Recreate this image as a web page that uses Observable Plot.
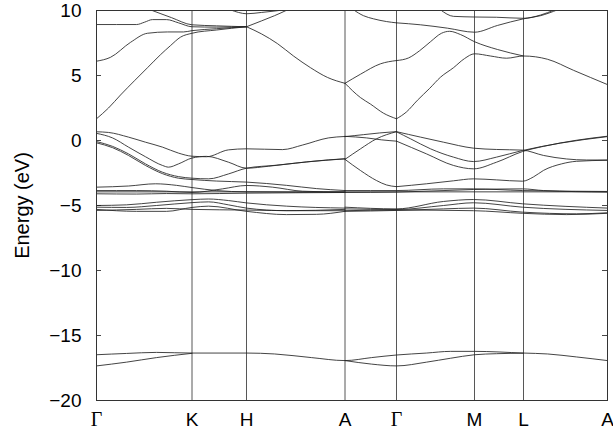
<!DOCTYPE html>
<html>
<head>
<meta charset="utf-8">
<script src="https://cdn.jsdelivr.net/npm/d3@7"></script>
<script src="https://cdn.jsdelivr.net/npm/@observablehq/plot@0.6"></script>
<style>
  html, body { margin: 0; padding: 0; background: #fff; }
</style>
</head>
<body>
<div id="chart"></div>
<script>
// High-symmetry points (path coordinate) and labels
const kTicks = [0, 95.5, 150, 248.5, 300, 378, 427, 511];
const kLabels = ["Γ", "K", "H", "A", "Γ", "M", "L", "A"];
const yTicks = [10, 5, 0, -5, -10, -15, -20];
const yLabel = "Energy (eV)";

// Conduction bands
const cbA = [[0,8.92],[40,8.92],[48,9.1],[56,9.3],[70,9.3],[82,9.05],[95.5,8.75],[120,8.72],[150,8.75]];
const cbB = [[54,10.05],[75,9.45],[95.5,8.9],[120,8.82],[150,8.75]];
const cbC = [[0,6.1],[14,6.4],[34,7.55],[51,8.25],[71,8.35],[87,8.35],[95.5,8.45],[120,8.6],[150,8.75]];
const cbD = [[0,1.67],[12,2.5],[24,3.5],[38,4.6],[51,5.6],[64,6.6],[74,7.3],[84,7.95],[95.5,8.25],[120,8.5],[150,8.75]];
const cbE = [[150,8.75],[165,8.2],[181,7.45],[197,6.5],[214,5.6],[231,4.85],[248.5,4.4]];
const cbF = [[150,8.75],[165,9.2],[178,9.6],[191,10.05]];
const cbG = [[134,10.05],[142,9.85],[150,9.75],[165,9.85],[188,10.05]];
const cbH = [[248.5,4.4],[264,5.1],[284,5.9],[300,6.15]];
const cbI = [[248.5,4.4],[264,3.3],[274,2.8],[287,2.1],[300,1.67]];
const cbJ = [[257,10.05],[267,9.6],[277,9.36],[290,9.15],[300,9.05]];
const cbK = [[300,1.67],[310,2.2],[321,3.1],[333,4.0],[344,4.87],[357,5.6],[368,6.3],[378,6.67],[394,6.5],[410,6.33],[427,6.5],[451,6.25],[477,5.4],[511,4.3]];
const cbL = [[300,6.15],[312,6.35],[323,6.9],[334,7.6],[345,8.25],[353,8.4],[364,8.15],[378,7.6],[401,7.0],[427,6.5]];
const cbM = [[300,9.05],[324,8.9],[351,8.64],[378,8.33],[401,8.85],[427,9.36],[444,9.6],[461,10.05]];
const cbN = [[344,10.05],[357,9.55],[378,9.5],[400,9.48],[427,9.4],[444,9.65],[458,10.05]];

// Upper valence bands
const vbA = [[0,0.67],[12,0.62],[32,0.26],[49,-0.13],[66,-0.51],[82,-0.97],[95.5,-1.21],[110,-1.25],[132,-0.72],[150,-0.64],[186,-0.7],[206,-0.35],[232,0.2],[248.5,0.31]];
const vbB = [[0,0.55],[16,0.2],[32,-0.51],[49,-1.25],[66,-1.92],[72,-2.05],[82,-1.8],[95.5,-1.35],[110,-1.22],[132,-1.67],[150,-2.13],[172,-1.98],[199,-1.74],[232,-1.49],[248.5,-1.41]];
const vbC = [[0,-0.08],[16,-0.45],[32,-1.03],[49,-1.8],[66,-2.44],[82,-2.78],[95.5,-2.9],[112,-2.95],[132,-2.57],[150,-2.13],[180,-1.9],[210,-1.65],[248.5,-1.41]];
const vbD = [[0,-0.18],[16,-0.55],[32,-1.15],[49,-1.92],[66,-2.55],[82,-2.9],[95.5,-3.0],[120,-3.12],[150,-3.2],[190,-3.45],[220,-3.7],[248.5,-3.85]];
const vbE = [[248.5,0.3],[267,0.45],[283,0.58],[300,0.68]];
const vbF = [[248.5,0.32],[270,0.2],[285,0.05],[300,-0.05]];
const vbG = [[248.5,-1.45],[264,-0.64],[280,0.13],[300,0.68]];
const vbH = [[248.5,-1.45],[264,-2.31],[280,-3.08],[290,-3.42],[300,-3.55]];
const vbI = [[300,0.68],[324,0.26],[347,-0.13],[377,-0.59],[400,-0.69],[426,-0.74],[447,-1.15],[470,-1.42],[490,-1.5],[511,-1.5]];
const vbJ = [[300,0.67],[314,0.13],[334,-0.64],[357,-1.28],[377,-1.62],[400,-1.28],[426,-0.77],[464,-0.2],[511,0.3]];
const vbK = [[300,-0.05],[330,-1.03],[357,-1.92],[377,-2.18],[400,-1.67],[426,-0.85],[447,-0.45],[480,0.02],[511,0.33]];
const vbM = [[300,-3.55],[330,-3.33],[357,-3.1],[377,-2.95],[400,-3.03],[426,-3.13],[437,-2.8],[447,-2.3],[465,-1.8],[480,-1.6],[511,-1.52]];

// Flat d-like bands near -4 eV
const mbFlat = [[0,-3.95],[511,-3.95]];
const mbA = [[0,-3.59],[32,-3.5],[59,-3.33],[80,-3.45],[95.5,-3.62],[120,-3.85],[150,-3.95],[200,-3.97],[248.5,-3.97]];
const mbB = [[0,-3.85],[40,-3.85],[70,-3.9],[95.5,-4.0],[126,-3.72],[150,-3.46],[176,-3.59],[206,-3.9],[248.5,-3.97]];
const mbC = [[0,-4.1],[40,-4.12],[70,-4.08],[95.5,-4.1],[150,-4.05],[248.5,-4.0]];
const mbD = [[248.5,-3.85],[300,-3.85],[347,-3.72],[377,-3.72],[426,-3.85],[511,-3.92]];
const mbE = [[248.5,-4.0],[300,-3.97],[377,-3.77],[426,-3.72],[447,-3.85],[511,-3.97]];

// Lower valence cluster near -5 eV
const lbA = [[0,-5.0],[30,-4.95],[60,-4.75],[95.5,-4.55],[112,-4.5],[132,-4.62],[150,-4.8],[190,-5.05],[248.5,-5.2]];
const lbB = [[0,-5.13],[30,-5.15],[60,-5.0],[95.5,-4.78],[112,-4.72],[132,-4.95],[150,-5.2],[190,-5.4],[248.5,-5.3]];
const lbC = [[0,-5.3],[40,-5.45],[70,-5.45],[95.5,-5.15],[112,-5.05],[150,-5.45],[190,-5.7],[220,-5.68],[248.5,-5.45]];
const lbD = [[0,-5.38],[40,-5.3],[70,-5.22],[95.5,-5.3],[150,-5.35],[200,-5.4],[248.5,-5.4]];
const lbE = [[248.5,-5.13],[300,-5.26],[347,-4.69],[377,-4.54],[426,-4.87],[511,-5.2]];
const lbF = [[248.5,-5.26],[300,-5.31],[347,-5.0],[377,-4.79],[426,-5.13],[511,-5.38]];
const lbG = [[248.5,-5.45],[300,-5.38],[347,-5.26],[377,-5.2],[426,-5.51],[480,-5.64],[511,-5.56]];
const lbH = [[248.5,-5.4],[300,-5.35],[377,-5.4],[426,-5.6],[470,-5.7],[511,-5.6]];

// Semicore bands near -17 eV
const sbA = [[0,-16.48],[30,-16.38],[60,-16.3],[95.5,-16.35],[150,-16.35],[178,-16.42],[215,-16.7],[248.5,-16.93],[275,-16.7],[300,-16.5],[330,-16.35],[354,-16.22],[378,-16.22],[427,-16.35],[451,-16.42],[480,-16.65],[511,-16.93]];
const sbB = [[0,-17.34],[30,-17.05],[60,-16.7],[95.5,-16.37]];
const sbC = [[248.5,-16.93],[275,-17.2],[300,-17.34],[330,-17.05],[354,-16.75],[378,-16.48],[400,-16.4],[427,-16.36]];

const allBands = [cbA,cbB,cbC,cbD,cbE,cbF,cbG,cbH,cbI,cbJ,cbK,cbL,cbM,cbN,
  vbA,vbB,vbC,vbD,vbE,vbF,vbG,vbH,vbI,vbJ,vbK,vbM,
  mbFlat,mbA,mbB,mbC,mbD,mbE,
  lbA,lbB,lbC,lbD,lbE,lbF,lbG,lbH,
  sbA,sbB,sbC];

const lineData = allBands.flatMap((pts, i) => pts.map(([k, e]) => ({k, e, band: i})));
const xLabelData = kTicks.map((k, i) => ({k, label: kLabels[i]}));
const fmt = d => String(d).replace("-", "\u2212");

const chart = Plot.plot({
  width: 613,
  height: 432,
  marginLeft: 96,
  marginRight: 6,
  marginTop: 10,
  marginBottom: 32,
  x: {domain: [0, 511], axis: null},
  y: {domain: [-20, 10], axis: null},
  style: {fontFamily: "'Liberation Sans', Arial, sans-serif", background: "#fff", color: "#000"},
  marks: [
    Plot.ruleX(kTicks, {stroke: "#444", strokeWidth: 0.9}),
    Plot.ruleY(yTicks, {x1: 0, x2: 5, stroke: "#333", strokeWidth: 0.9}),
    Plot.ruleY(yTicks, {x1: 506, x2: 511, stroke: "#333", strokeWidth: 0.9}),
    Plot.line(lineData, {x: "k", y: "e", z: "band", curve: "monotone-x", stroke: "#222", strokeWidth: 0.85, clip: true}),
    Plot.frame({stroke: "#333", strokeWidth: 1}),
    Plot.axisY(yTicks, {tickSize: 0, tickPadding: 15, tickFormat: fmt, fontSize: 19, label: null}),
    Plot.text([yLabel], {frameAnchor: "left", dx: -74, rotate: -90, text: d => d, fontSize: 20, textAnchor: "middle"}),
    Plot.text(xLabelData.filter(d => d.label !== "Γ"), {x: "k", y: () => -20, dy: 19, text: "label", fontSize: 19, lineAnchor: "middle"}),
    Plot.text(xLabelData.filter(d => d.label === "Γ"), {x: "k", y: () => -20, dy: 19, text: "label", fontSize: 20, fontFamily: "'Liberation Serif', 'DejaVu Serif', serif", lineAnchor: "middle"})
  ]
});
document.getElementById("chart").appendChild(chart);
</script>
</body>
</html>
